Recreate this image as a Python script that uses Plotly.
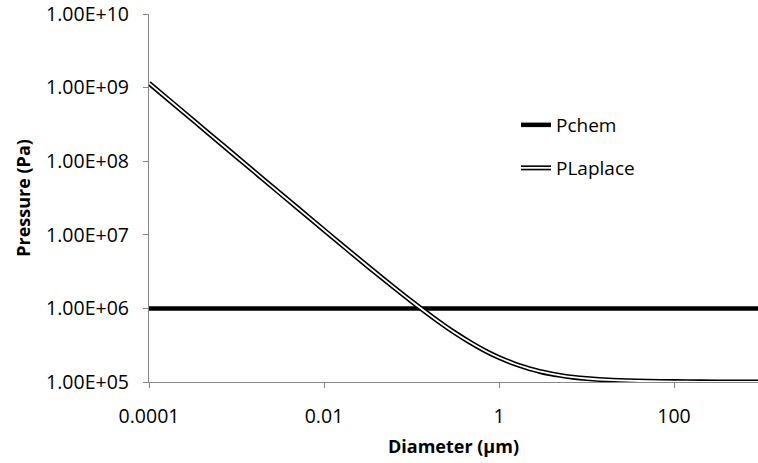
import plotly.graph_objects as go

# Data
diameter_um = [0.0001, 0.0002, 0.0005, 0.001, 0.002, 0.005, 0.01, 0.02, 0.05,
               0.1, 0.2, 0.3, 0.5, 0.7, 1, 1.5, 2, 3, 5, 7, 10, 20, 50, 100,
               200, 500, 1000]
p_laplace = [1.15e9, 5.75e8, 2.30e8, 1.15e8, 5.76e7, 2.31e7, 1.16e7, 5.85e6, 2.40e6,
             1.25e6, 6.75e5, 4.83e5, 3.30e5, 2.64e5, 2.15e5, 1.77e5, 1.58e5, 1.38e5,
             1.23e5, 1.164e5, 1.115e5, 1.058e5, 1.023e5, 1.012e5,
             1.006e5, 1.002e5, 1.001e5]
pchem_x = [0.0001, 1000]
pchem_y = [1e6, 1e6]

y_tickvals = [1e5, 1e6, 1e7, 1e8, 1e9, 1e10]
y_ticktext = ["1.00E+05", "1.00E+06", "1.00E+07", "1.00E+08", "1.00E+09", "1.00E+10"]
x_tickvals = [0.0001, 0.01, 1, 100]
x_ticktext = ["0.0001", "0.01", "1", "100"]

FONT = "Open Sans"
W, H = 758, 463
ML, MT, MR = 149, 14, 0
MB = H - 382
pw = W - ML - MR
ph = H - MT - MB

fig = go.Figure()
fig.add_trace(go.Scatter(x=pchem_x, y=pchem_y, mode="lines", name="Pchem",
                         line=dict(color="black", width=4.5), legend="legend"))
fig.add_trace(go.Scatter(x=diameter_um, y=p_laplace, mode="lines", name="PLaplace",
                         line=dict(color="black", width=5, shape="spline", smoothing=0.6),
                         legend="legend2"))
fig.add_trace(go.Scatter(x=diameter_um, y=p_laplace, mode="lines", name="PLaplace",
                         line=dict(color="white", width=1.8, shape="spline", smoothing=0.6),
                         legend="legend3"))

axis_common = dict(showgrid=False, zeroline=False, showline=True, linecolor="#878787",
                   linewidth=1.3, ticks="outside", ticklen=5, tickcolor="#878787",
                   tickwidth=1.3, automargin=False, ticklabeloverflow="allow",
                   tickfont=dict(family=FONT, size=19.5, color="black"))

fig.update_xaxes(type="log", range=[-4, -4 + pw / 87.5], tickmode="array",
                 tickvals=x_tickvals, ticktext=x_ticktext, ticklabelstandoff=11,
                 title=dict(text="<b>Diameter (μm)</b>", font=dict(family=FONT, size=18, color="black"),
                            standoff=12),
                 **axis_common)
fig.update_yaxes(type="log", range=[5, 10], tickmode="array",
                 tickvals=y_tickvals, ticktext=y_ticktext, ticklabelstandoff=10,
                 title=dict(text="<b>Pressure (Pa)</b>", font=dict(family=FONT, size=18, color="black"),
                            standoff=10),
                 **axis_common)

lx = (516 - ML) / pw
leg_common = dict(xanchor="left", yanchor="middle", bgcolor="rgba(0,0,0,0)",
                  borderwidth=0, font=dict(family=FONT, size=19, color="black"))
fig.update_layout(
    width=W, height=H,
    margin=dict(l=ML, r=MR, t=MT, b=MB, autoexpand=False),
    paper_bgcolor="white", plot_bgcolor="white",
    showlegend=True,
    legend=dict(x=lx, y=1 - (125 - MT) / ph, **leg_common),
    legend2=dict(x=lx, y=1 - (168 - MT) / ph, **leg_common),
    legend3=dict(x=lx, y=1 - (168 - MT) / ph,
                 **{**leg_common, "font": dict(family=FONT, size=19, color="rgba(0,0,0,0)")}),
)

fig.write_html("out.html", config={"displayModeBar": False},
               post_script="document.body.style.margin='0';document.body.style.overflow='hidden';")
